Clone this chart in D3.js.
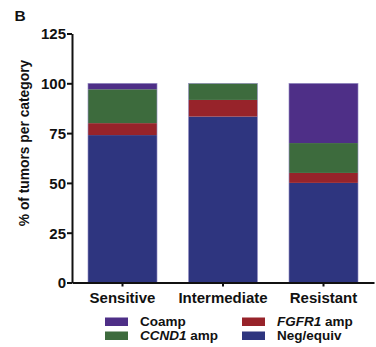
<!DOCTYPE html>
<html lang="en">
<head>
<meta charset="UTF-8">
<title>Tumors per category</title>
<script src="https://cdnjs.cloudflare.com/ajax/libs/d3/7.8.5/d3.min.js"></script>
<style>
    body { margin: 0; background: #fff; font-family: 'Liberation Sans', Arial, sans-serif; }
    svg text { font-weight: bold; fill: #111; }
</style>
</head>
<body>
<div id="chart"></div>
<script>
    // data
    const categories = ["Sensitive", "Intermediate", "Resistant"];
    const negEquiv = [74, 83.3, 50];
    const fgfr1Amp = [6, 8.35, 5];
    const ccnd1Amp = [17, 8.35, 15];
    const coamp = [3, 0, 30];
    const yTicks = [0, 25, 50, 75, 100, 125];

    const seriesKeys = ["neg", "fgfr1", "ccnd1", "coamp"];
    const colors = { neg: "#2e357f", fgfr1: "#97232a", ccnd1: "#3d6b3d", coamp: "#4e2f87" };

    const rows = categories.map((c, i) => ({
        cat: c, neg: negEquiv[i], fgfr1: fgfr1Amp[i], ccnd1: ccnd1Amp[i], coamp: coamp[i]
    }));

    const width = 376, height = 347;
    const x0 = 72, x1 = 374, yTop = 33.5, yBot = 282.5;
    const fontFam = "'Liberation Sans', Arial, sans-serif";

    const svg = d3.select("#chart").append("svg")
        .attr("width", width).attr("height", height);

    const x = d3.scaleBand().domain(categories).range([x0, x1]).paddingInner(0.313).paddingOuter(0.159);
    const y = d3.scaleLinear().domain([0, 125]).range([yBot, yTop]);

    const stacked = d3.stack().keys(seriesKeys)(rows);

    svg.append("g").selectAll("g")
        .data(stacked)
        .join("g")
        .attr("fill", d => colors[d.key])
        .selectAll("rect")
        .data(d => d.filter(p => p[1] - p[0] > 0))
        .join("rect")
        .attr("x", d => x(d.data.cat))
        .attr("width", x.bandwidth())
        .attr("y", d => y(d[1]))
        .attr("height", d => y(d[0]) - y(d[1]));

    // thin light outline around each bar
    svg.append("g").selectAll("rect")
        .data(rows)
        .join("rect")
        .attr("x", d => x(d.cat))
        .attr("width", x.bandwidth())
        .attr("y", y(100))
        .attr("height", y(0) - y(100))
        .attr("fill", "none")
        .attr("stroke", "#9a94c8")
        .attr("stroke-width", 0.6);

    // y axis
    const yAxis = svg.append("g")
        .attr("transform", `translate(${x0},0)`)
        .call(d3.axisLeft(y).tickValues(yTicks).tickSize(5).tickPadding(1).tickSizeOuter(0));
    yAxis.select(".domain").attr("stroke", "#111").attr("stroke-width", 2);
    yAxis.selectAll(".tick line").attr("stroke", "#111").attr("stroke-width", 2);
    yAxis.selectAll(".tick text").attr("font-size", 15).attr("font-family", fontFam).attr("dy", "0.36em");

    // x axis
    const xAxis = svg.append("g")
        .attr("transform", `translate(0,${yBot})`)
        .call(d3.axisBottom(x).tickSize(4).tickPadding(6).tickSizeOuter(0));
    xAxis.select(".domain").attr("stroke", "#111").attr("stroke-width", 2);
    xAxis.selectAll(".tick line").attr("stroke", "#111").attr("stroke-width", 2);
    xAxis.selectAll(".tick text").attr("font-size", 15).attr("font-family", fontFam);

    // axis title
    svg.append("text")
        .attr("transform", "translate(29,143) rotate(-90)")
        .attr("text-anchor", "middle")
        .attr("font-size", 13.8)
        .text("% of tumors per category");

    // panel letter
    svg.append("text")
        .attr("x", 14.5).attr("y", 21)
        .attr("font-size", 15.5)
        .text("B");

    // legend
    const legendItems = [
        { key: "coamp", label: [["Coamp", false]], lx: 105, ly: 317.5 },
        { key: "ccnd1", label: [["CCND1", true], [" amp", false]], lx: 105, ly: 331.5 },
        { key: "fgfr1", label: [["FGFR1", true], [" amp", false]], lx: 242, ly: 317.5 },
        { key: "neg", label: [["Neg/equiv", false]], lx: 242, ly: 331.5 }
    ];
    const lg = svg.append("g").selectAll("g").data(legendItems).join("g");
    lg.append("rect")
        .attr("x", d => d.lx).attr("y", d => d.ly)
        .attr("width", 23).attr("height", 8.5)
        .attr("fill", d => colors[d.key]);
    const lt = lg.append("text")
        .attr("x", d => d.lx + 35).attr("y", d => d.ly + 8)
        .attr("font-size", 13.5);
    lt.selectAll("tspan")
        .data(d => d.label)
        .join("tspan")
        .attr("font-style", d => d[1] ? "italic" : "normal")
        .text(d => d[0]);
</script>
</body>
</html>
